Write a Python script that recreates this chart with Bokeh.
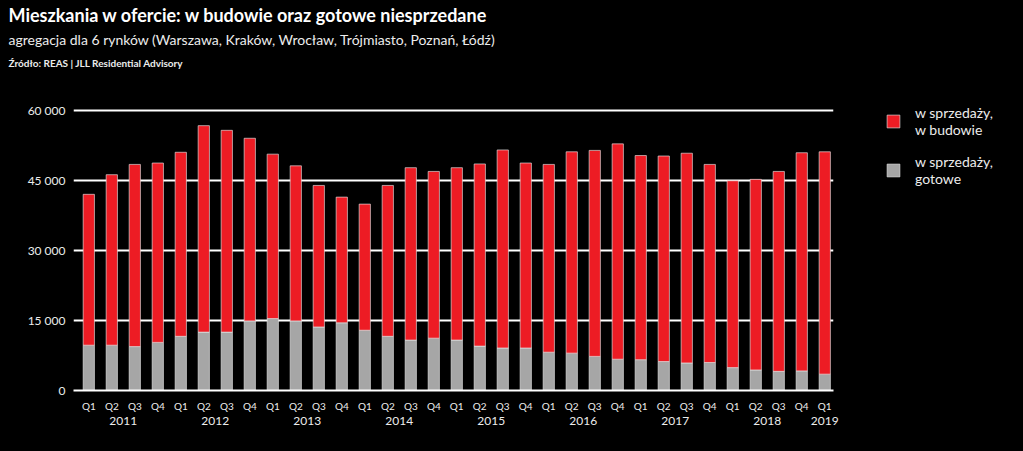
from bokeh.plotting import figure
from bokeh.layouts import row
from bokeh.models import (FixedTicker, LinearAxis, Legend, LegendItem, Title,
                          Range1d, ColumnDataSource)
from bokeh.embed import file_html
from bokeh.resources import INLINE

# ---- data ----
quarters = ["Q1", "Q2", "Q3", "Q4"] * 8 + ["Q1"]
years = ["2011", "2012", "2013", "2014", "2015", "2016", "2017", "2018", "2019"]
year_pos = [1.5, 5.5, 9.5, 13.5, 17.5, 21.5, 25.5, 29.5, 32]
gotowe = [9700, 9700, 9400, 10300, 11600, 12500, 12500, 14900, 15400, 14900, 13600,
          14500, 12900, 11600, 10800, 11200, 10800, 9500, 9100, 9100, 8200, 8000,
          7300, 6700, 6600, 6200, 5900, 6000, 4900, 4400, 4100, 4200, 3500]
w_budowie = [32300, 36500, 39000, 38400, 39400, 44200, 43200, 39100, 35200, 33200,
             30300, 26900, 27000, 32300, 36900, 35700, 36900, 39000, 42400, 39600,
             40200, 43100, 44100, 46100, 43700, 44000, 44900, 42400, 40000, 40800,
             42800, 46700, 47600]
y_ticks = [0, 15000, 30000, 45000, 60000]
y_labels = ["0", "15 000", "30 000", "45 000", "60 000"]
legend_labels = ["w sprzedaży,\nw budowie", "w sprzedaży,\ngotowe"]

RED = "#ED1C24"
GREY = "#A6A6A6"
FONT = "Lato"
TXT = "#ECECEC"
Y_END = 67650
H = 451

src = ColumnDataSource(dict(x=list(range(len(quarters))), gotowe=gotowe, budowie=w_budowie))

p = figure(width=840, height=H, output_backend="svg", toolbar_location=None,
           x_range=Range1d(-0.665, 32.38), y_range=Range1d(0, Y_END),
           background_fill_color="black", border_fill_color="black",
           outline_line_color=None, min_border_left=73, min_border_right=7,
           min_border_bottom=61, min_border_top=0)

rs = p.vbar_stack(["gotowe", "budowie"], x="x", width=0.49, source=src,
                  fill_color=[GREY, RED], line_color="#e8e8e8", line_width=0.8,
                  line_alpha=0.8)

# titles
p.add_layout(Title(text="Źródło: REAS | JLL Residential Advisory", text_font=FONT,
                   text_font_size="10px", text_font_style="bold", text_color=TXT,
                   standoff=11, offset=-65), "above")
p.add_layout(Title(text="agregacja dla 6 rynków (Warszawa, Kraków, Wrocław, Trójmiasto, Poznań, Łódź)",
                   text_font=FONT, text_font_size="14px", text_font_style="normal",
                   text_color=TXT, standoff=4, offset=-65), "above")
p.add_layout(Title(text="Mieszkania w ofercie: w budowie oraz gotowe niesprzedane",
                   text_font=FONT, text_font_size="18px", text_font_style="bold",
                   text_color="white", standoff=2, offset=-65), "above")

# y axis
p.yaxis.ticker = FixedTicker(ticks=y_ticks)
p.yaxis.major_label_overrides = dict(zip(y_ticks, y_labels))
p.yaxis.axis_line_color = None
p.yaxis.major_tick_line_color = None
p.yaxis.minor_tick_line_color = None
p.yaxis.major_tick_out = 0
p.yaxis.major_tick_in = 0
p.yaxis.major_label_text_font = FONT
p.yaxis.major_label_text_font_size = "12px"
p.yaxis.major_label_text_color = TXT
p.yaxis.major_label_standoff = 8

p.ygrid.ticker = FixedTicker(ticks=y_ticks[1:])
p.ygrid.grid_line_color = "white"
p.ygrid.grid_line_width = 2
p.xgrid.grid_line_color = None

# x axis (quarters)
p.xaxis.ticker = FixedTicker(ticks=list(range(len(quarters))))
p.xaxis.major_label_overrides = {i: q for i, q in enumerate(quarters)}
p.xaxis.axis_line_color = "white"
p.xaxis.axis_line_width = 2
p.xaxis.major_tick_line_color = None
p.xaxis.minor_tick_line_color = None
p.xaxis.major_tick_out = 0
p.xaxis.major_tick_in = 0
p.xaxis.major_label_text_font = FONT
p.xaxis.major_label_text_font_size = "10px"
p.xaxis.major_label_text_color = TXT
p.xaxis.major_label_standoff = 9

# x axis (years)
yax = LinearAxis(ticker=FixedTicker(ticks=year_pos),
                 major_label_overrides=dict(zip(year_pos, years)),
                 axis_line_color=None, major_tick_line_color=None,
                 minor_tick_line_color=None, major_tick_out=0, major_tick_in=0,
                 major_label_text_font=FONT,
                 major_label_text_font_size="12px", major_label_text_color=TXT,
                 major_label_standoff=2)
p.add_layout(yax, "below")

# legend panel (separate figure to the right)
lf = figure(width=183, height=H, output_backend="svg", toolbar_location=None,
            x_range=Range1d(0, 1), y_range=Range1d(0, 1),
            x_axis_type=None, y_axis_type=None,
            background_fill_color="black", border_fill_color="black",
            outline_line_color=None, min_border=0, frame_align=False)
lf.xgrid.visible = False
lf.ygrid.visible = False
proxy_red = lf.vbar(x="x", top="budowie", source=src, width=0.5, fill_color=RED,
                    line_color="#e8e8e8", line_width=0.8, line_alpha=0.8, visible=False)
proxy_grey = lf.vbar(x="x", top="gotowe", source=src, width=0.5, fill_color=GREY,
                     line_color="#e8e8e8", line_width=0.8, line_alpha=0.8, visible=False)
legend = Legend(items=[LegendItem(label=legend_labels[0], renderers=[proxy_red]),
                       LegendItem(label=legend_labels[1], renderers=[proxy_grey])],
                location=(45, 264), padding=5, margin=0, spacing=15,
                glyph_width=16, glyph_height=16, label_standoff=14,
                label_text_font=FONT, label_text_font_size="14px",
                inactive_fill_alpha=0,
                label_text_color=TXT, background_fill_alpha=0,
                border_line_color=None)
lf.add_layout(legend)

layout = row(p, lf, spacing=0, styles={"background-color": "black"})
open("out.html", "w").write(file_html(layout, INLINE))
